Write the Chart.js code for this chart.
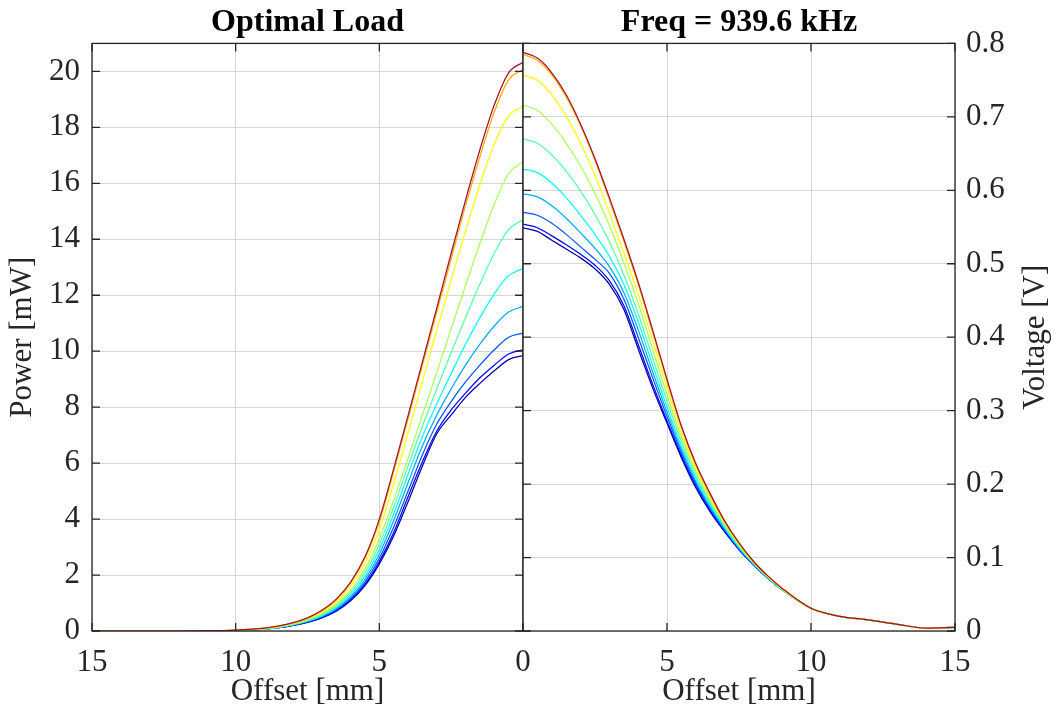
<!DOCTYPE html>
<html>
<head>
<meta charset="utf-8">
<script src="https://cdn.jsdelivr.net/npm/chart.js@4.4.0/dist/chart.umd.min.js"></script>
<style>
  body { margin: 0; background: #fff; }
  #wrap { position: relative; width: 1055px; height: 719px; }
  canvas { position: absolute; top: 0; }
  #left { left: 0; }
  #right { left: 393px; }
</style>
</head>
<body>
<div id="wrap">
  <canvas id="left" width="615" height="719"></canvas>
  <canvas id="right" width="662" height="719"></canvas>
</div>
<script>
// offset positions in mm (same for both panels)
const offsets = [0, 0.5, 1, 1.5, 2, 2.5, 3, 3.5, 4, 4.5, 5, 5.5, 6, 6.5, 7, 7.5, 8, 8.5, 9, 10, 11, 12, 13, 14, 15];

// jet-like colours, lowest curve first
const lineColors = ['#0000AA', '#0000FF', '#0055FF', '#00AAFF', '#00FFFF',
                    '#55FFAA', '#AAFF55', '#FFFF00', '#FFAA00', '#A2142F'];

// power [mW]
const powerMw = [
  [9.84, 9.7, 9.3, 8.85, 8.35, 7.72, 7.05, 5.9, 4.62, 3.4, 2.4, 1.62, 1.08, 0.71, 0.47, 0.31, 0.2, 0.12, 0.07, 0.02, 0.01, 0, 0, 0, 0],
  [10.05, 9.9, 9.5, 9.05, 8.5, 7.9, 7.15, 6.05, 4.8, 3.52, 2.48, 1.67, 1.11, 0.73, 0.48, 0.32, 0.2, 0.12, 0.07, 0.02, 0.01, 0, 0, 0, 0],
  [10.65, 10.5, 10.05, 9.5, 8.9, 8.2, 7.4, 6.3, 5.0, 3.72, 2.6, 1.75, 1.16, 0.76, 0.5, 0.33, 0.21, 0.12, 0.07, 0.02, 0.01, 0, 0, 0, 0],
  [11.6, 11.4, 10.9, 10.25, 9.5, 8.65, 7.72, 6.62, 5.3, 3.95, 2.75, 1.84, 1.22, 0.8, 0.52, 0.34, 0.22, 0.13, 0.07, 0.02, 0.01, 0, 0, 0, 0],
  [12.95, 12.7, 12.05, 11.2, 10.25, 9.2, 8.12, 6.95, 5.6, 4.18, 2.92, 1.95, 1.29, 0.84, 0.55, 0.36, 0.23, 0.13, 0.07, 0.02, 0.01, 0, 0, 0, 0],
  [14.7, 14.35, 13.5, 12.4, 11.2, 9.95, 8.65, 7.32, 5.9, 4.43, 3.1, 2.08, 1.37, 0.89, 0.58, 0.38, 0.24, 0.14, 0.08, 0.02, 0.01, 0, 0, 0, 0],
  [16.77, 16.35, 15.25, 13.85, 12.35, 10.8, 9.25, 7.72, 6.18, 4.68, 3.3, 2.22, 1.46, 0.95, 0.62, 0.4, 0.25, 0.15, 0.08, 0.02, 0.01, 0, 0, 0, 0],
  [18.76, 18.4, 17.4, 15.95, 14.3, 12.55, 10.75, 8.92, 7.08, 5.28, 3.62, 2.42, 1.6, 1.03, 0.68, 0.44, 0.27, 0.16, 0.09, 0.03, 0.01, 0, 0, 0, 0],
  [20.07, 19.7, 18.55, 16.95, 15.2, 13.3, 11.4, 9.5, 7.58, 5.7, 3.9, 2.6, 1.72, 1.11, 0.72, 0.46, 0.29, 0.17, 0.1, 0.03, 0.01, 0, 0, 0, 0],
  [20.33, 19.95, 18.8, 17.2, 15.4, 13.5, 11.55, 9.62, 7.7, 5.8, 4.0, 2.65, 1.75, 1.14, 0.74, 0.47, 0.3, 0.18, 0.1, 0.03, 0.01, 0, 0, 0, 0]
];

// voltage [V]
const voltageV = [
  [0.549, 0.544, 0.532, 0.52, 0.508, 0.493, 0.472, 0.438, 0.384, 0.331, 0.283, 0.236, 0.195, 0.162, 0.135, 0.111, 0.09, 0.072, 0.056, 0.031, 0.02, 0.015, 0.009, 0.004, 0.005],
  [0.554, 0.549, 0.538, 0.526, 0.513, 0.498, 0.477, 0.443, 0.39, 0.336, 0.286, 0.239, 0.198, 0.164, 0.136, 0.111, 0.09, 0.072, 0.056, 0.031, 0.02, 0.015, 0.009, 0.004, 0.005],
  [0.57, 0.566, 0.555, 0.54, 0.523, 0.506, 0.487, 0.452, 0.4, 0.345, 0.292, 0.243, 0.201, 0.167, 0.138, 0.112, 0.09, 0.072, 0.056, 0.031, 0.02, 0.015, 0.009, 0.004, 0.005],
  [0.595, 0.591, 0.579, 0.562, 0.542, 0.521, 0.496, 0.461, 0.41, 0.353, 0.298, 0.247, 0.204, 0.169, 0.139, 0.113, 0.091, 0.072, 0.056, 0.031, 0.02, 0.015, 0.009, 0.004, 0.005],
  [0.629, 0.624, 0.61, 0.59, 0.566, 0.54, 0.51, 0.472, 0.421, 0.362, 0.305, 0.252, 0.208, 0.172, 0.141, 0.114, 0.092, 0.073, 0.056, 0.031, 0.02, 0.015, 0.009, 0.004, 0.005],
  [0.67, 0.664, 0.648, 0.626, 0.599, 0.567, 0.53, 0.485, 0.432, 0.372, 0.313, 0.258, 0.212, 0.175, 0.143, 0.116, 0.092, 0.073, 0.057, 0.031, 0.02, 0.015, 0.009, 0.004, 0.005],
  [0.716, 0.709, 0.69, 0.664, 0.633, 0.596, 0.552, 0.502, 0.446, 0.384, 0.322, 0.264, 0.217, 0.178, 0.145, 0.117, 0.093, 0.074, 0.057, 0.031, 0.02, 0.015, 0.009, 0.004, 0.005],
  [0.757, 0.75, 0.73, 0.701, 0.664, 0.62, 0.569, 0.515, 0.458, 0.395, 0.331, 0.27, 0.221, 0.182, 0.147, 0.118, 0.094, 0.074, 0.057, 0.031, 0.02, 0.015, 0.009, 0.004, 0.005],
  [0.785, 0.777, 0.757, 0.727, 0.688, 0.641, 0.587, 0.531, 0.472, 0.407, 0.34, 0.277, 0.226, 0.185, 0.149, 0.12, 0.095, 0.075, 0.058, 0.031, 0.02, 0.015, 0.009, 0.004, 0.005],
  [0.788, 0.78, 0.76, 0.73, 0.69, 0.643, 0.59, 0.534, 0.475, 0.41, 0.343, 0.279, 0.228, 0.187, 0.15, 0.12, 0.095, 0.075, 0.058, 0.031, 0.02, 0.015, 0.009, 0.004, 0.005]
];

const leftTitle = 'Optimal Load';
const rightTitle = 'Freq = 939.6 kHz';
const xLabel = 'Offset [mm]';
const leftYLabel = 'Power [mW]';
const rightYLabel = 'Voltage [V]';

const FONT = '"Liberation Serif", "Times New Roman", serif';
const axisColor = '#262626';
const gridColor = '#d6d6d6';

function makeDatasets(rows) {
  return rows.map((row, i) => ({
    data: row.map((v, j) => ({ x: offsets[j], y: v })),
    borderColor: lineColors[i],
    borderWidth: 1.25,
    pointRadius: 0,
    fill: false,
    cubicInterpolationMode: 'monotone',
    order: rows.length - i          // red on top, like the matlab plot order
  }));
}

// matlab style box with inward ticks on all four sides
const boxPlugin = {
  id: 'box',
  afterDatasetsDraw(chart) {
    const { ctx, chartArea: a, scales } = chart;
    const len = 8;
    ctx.save();
    ctx.strokeStyle = axisColor;
    ctx.lineWidth = 1.3;
    ctx.strokeRect(a.left, a.top, a.right - a.left, a.bottom - a.top);
    ctx.beginPath();
    scales.x.ticks.forEach(t => {
      const px = scales.x.getPixelForValue(t.value);
      ctx.moveTo(px, a.bottom); ctx.lineTo(px, a.bottom - len);
      ctx.moveTo(px, a.top); ctx.lineTo(px, a.top + len);
    });
    scales.y.ticks.forEach(t => {
      const py = scales.y.getPixelForValue(t.value);
      ctx.moveTo(a.left, py); ctx.lineTo(a.left + len, py);
      ctx.moveTo(a.right, py); ctx.lineTo(a.right - len, py);
    });
    ctx.stroke();
    ctx.restore();
  }
};

// right hand y label reading bottom to top (chart.js rotates it the other way)
const sideTitle = {
  id: 'sideTitle',
  afterDraw(chart, args, opts) {
    if (!opts.text) return;
    const { ctx, chartArea: a } = chart;
    ctx.save();
    ctx.translate(a.right + opts.offset, (a.top + a.bottom) / 2);
    ctx.rotate(-Math.PI / 2);
    ctx.font = '31px ' + FONT;
    ctx.fillStyle = axisColor;
    ctx.textAlign = 'center';
    ctx.textBaseline = 'middle';
    ctx.fillText(opts.text, 0, 0);
    ctx.restore();
  }
};

function xScale(reverse, hideZero) {
  return {
    type: 'linear',
    min: 0, max: 15,
    reverse: reverse,
    ticks: {
      stepSize: 5,
      padding: 13,
      color: axisColor,
      font: { family: FONT, size: 31 },
      maxRotation: 0,
      callback: v => (hideZero && v === 0) ? '' : v
    },
    grid: { color: gridColor, lineWidth: 1, drawTicks: false },
    border: { display: false },
    title: { display: true, text: xLabel, color: axisColor,
             font: { family: FONT, size: 31 }, padding: { top: 0, bottom: 9 } },
    afterFit: s => { s.height = 88; }
  };
}

function titleOpts(text) {
  return {
    display: true, text: text, color: '#000', fullSize: false,
    font: { family: FONT, size: 32, weight: 'bold' },
    padding: { top: 4, bottom: 1 }
  };
}

new Chart(document.getElementById('left'), {
  type: 'line',
  data: { datasets: makeDatasets(powerMw) },
  options: {
    responsive: false,
    animation: false,
    layout: { padding: { left: 0, right: 92, top: 0, bottom: 0 } },
    plugins: {
      legend: { display: false },
      tooltip: { enabled: false },
      title: titleOpts(leftTitle)
    },
    scales: {
      x: xScale(true, true),
      y: {
        min: 0, max: 21,
        ticks: { stepSize: 2, includeBounds: false, padding: 12, color: axisColor,
                 font: { family: FONT, size: 31 } },
        grid: { color: gridColor, lineWidth: 1, drawTicks: false },
        border: { display: false },
        title: { display: true, text: leftYLabel, color: axisColor,
                 font: { family: FONT, size: 31 }, padding: { top: 4, bottom: 4 } },
        afterFit: s => { s.width = 92; }
      }
    }
  },
  plugins: [boxPlugin]
});

new Chart(document.getElementById('right'), {
  type: 'line',
  data: { datasets: makeDatasets(voltageV) },
  options: {
    responsive: false,
    animation: false,
    layout: { padding: { left: 130, right: 0, top: 0, bottom: 0 } },
    plugins: {
      legend: { display: false },
      tooltip: { enabled: false },
      title: titleOpts(rightTitle),
      sideTitle: { text: rightYLabel, offset: 81 }
    },
    scales: {
      x: xScale(false, false),
      y: {
        position: 'right',
        min: 0, max: 0.8,
        ticks: { stepSize: 0.1, padding: 11, color: axisColor,
                 font: { family: FONT, size: 31 } },
        grid: { color: gridColor, lineWidth: 1, drawTicks: false },
        border: { display: false },
        afterFit: s => { s.width = 100; }
      }
    }
  },
  plugins: [boxPlugin, sideTitle]
});
</script>
</body>
</html>
